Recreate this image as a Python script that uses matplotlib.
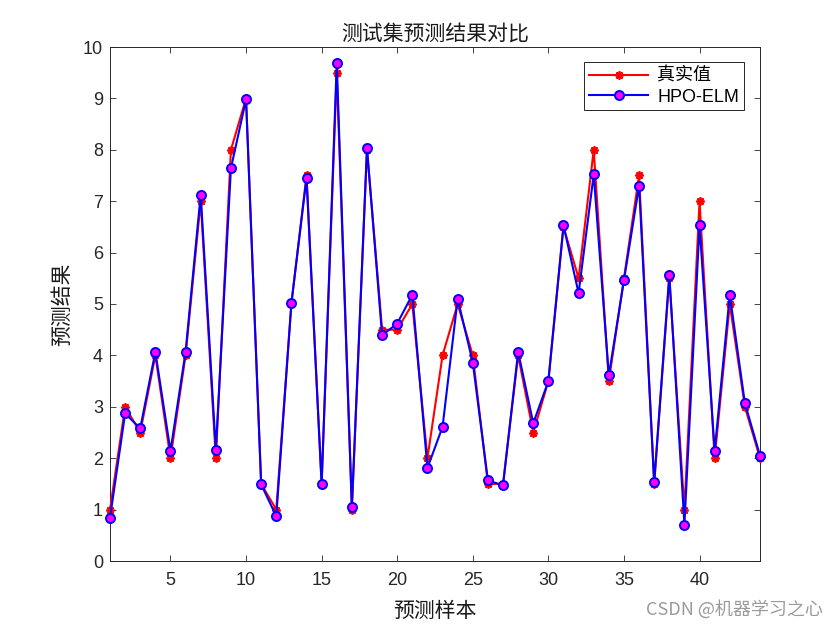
import matplotlib
matplotlib.use('Agg')
import matplotlib.pyplot as plt
import numpy as np

# values
samples = list(range(1, 45))
true_vals = [1.0, 3.0, 2.5, 4.0, 2.0, 4.0, 7.0, 2.0, 8.0, 9.0,
             1.5, 1.0, 5.0, 7.5, 1.5, 9.5, 1.0, 8.0, 4.5, 4.5,
             5.0, 2.0, 4.0, 5.0, 4.0, 1.5, 1.5, 4.0, 2.5, 3.5,
             6.5, 5.5, 8.0, 3.5, 5.5, 7.5, 1.5, 5.5, 1.0, 7.0,
             2.0, 5.0, 3.0, 2.0]
pred_vals = [0.84, 2.87, 2.58, 4.07, 2.14, 4.07, 7.13, 2.16, 7.64, 8.98,
             1.49, 0.87, 5.02, 7.45, 1.49, 9.69, 1.05, 8.04, 4.39, 4.62,
             5.18, 1.81, 2.61, 5.10, 3.86, 1.57, 1.47, 4.07, 2.68, 3.50,
             6.53, 5.21, 7.52, 3.61, 5.46, 7.30, 1.53, 5.57, 0.71, 6.53,
             2.14, 5.18, 3.07, 2.05]
xticks = [5, 10, 15, 20, 25, 30, 35, 40]
yticks = list(range(0, 11))

cjk = ['Noto Sans CJK SC', 'DejaVu Sans']
num_font = ['Liberation Sans', 'DejaVu Sans']
plt.rcParams['font.family'] = num_font

fig = plt.figure(figsize=(8.4, 6.3), dpi=100)
ax = fig.add_axes([110/840, 69/630, 650/840, 514/630])

# MATLAB style '*' = asterisk, not a filled star
ax.plot(samples, true_vals, color='red', lw=1.5, marker=(8, 2, 0), ms=6, mew=1.3,
        mec='red', mfc='red', label='真实值', clip_on=False, zorder=3)
ax.plot(samples, pred_vals, color='blue', lw=1.5, marker='o', ms=6.5,
        mec='blue', mfc='magenta', mew=1.4, label='HPO-ELM', clip_on=False, zorder=4)

ax.set_xlim(1, 44)
ax.set_ylim(0, 10)
ax.set_xticks(xticks)
ax.set_yticks(yticks)
ax.tick_params(direction='in', top=True, right=True, labelsize=13,
               colors='#262626', length=4.5, width=0.6, pad=5)
ax.tick_params(axis='x', pad=8)
for s in ax.spines.values():
    s.set_color('#262626')
    s.set_linewidth(0.7)

ax.set_title('测试集预测结果对比', family=cjk, fontsize=15, color='#1a1a1a', pad=5)
ax.set_xlabel('预测样本', family=cjk, fontsize=15, color='#1a1a1a', labelpad=8)
ax.set_ylabel('预测结果', family=cjk, fontsize=15, color='#1a1a1a', labelpad=7)

leg = ax.legend(loc='upper right', bbox_to_anchor=(0.975, 0.97), fancybox=False,
                edgecolor='#262626', framealpha=1, borderpad=0.25, borderaxespad=0,
                handlelength=3.3, handletextpad=0.5, labelspacing=0.2,
                prop={'family': cjk + num_font, 'size': 13})
leg.get_frame().set_linewidth(0.7)
for t in leg.get_texts():
    if t.get_text() == 'HPO-ELM':
        t.set_family(num_font)

fig.text(0.98, 0.018, 'CSDN @机器学习之心', family=cjk, fontsize=13,
         color='#9a9a9a', ha='right', va='bottom')

fig.savefig('out.png', dpi=100)
